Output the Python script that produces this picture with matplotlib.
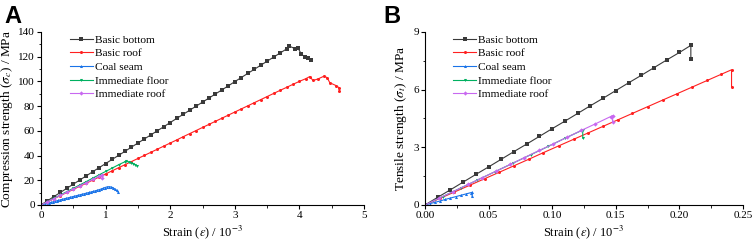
import matplotlib.pyplot as plt
from matplotlib.ticker import MultipleLocator

plt.rcParams['font.family'] = ['Liberation Serif', 'DejaVu Serif']
plt.rcParams['mathtext.fontset'] = 'stix'

names = ["Basic bottom", "Basic roof", "Coal seam", "Immediate floor", "Immediate roof"]
colors = ["#3a3a3a", "#ff2020", "#1a73e8", "#00b060", "#c868f0"]
markers = ["s", "o", "^", "v", "D"]

# Panel A: compression tests (strain in 10^-3, stress in MPa)
bb_strain_a = [0.0, 0.1, 0.2, 0.3, 0.4, 0.5, 0.6, 0.7, 0.8, 0.9, 1.0, 1.1, 1.2, 1.3, 1.4,
               1.5, 1.6, 1.7, 1.8, 1.9, 2.0, 2.1, 2.2, 2.3, 2.4, 2.5, 2.6, 2.7, 2.8, 2.9,
               3.0, 3.1, 3.2, 3.3, 3.4, 3.5, 3.6, 3.7, 3.8, 3.84, 3.93, 3.98, 4.03, 4.08,
               4.13, 4.18]
bb_stress_a = [0, 3.4, 6.8, 10.1, 13.5, 16.8, 20.2, 23.5, 26.9, 30.2, 33.5, 36.8, 40.1, 43.4,
               46.8, 50.1, 53.4, 56.7, 60.0, 63.3, 66.7, 70.0, 73.3, 76.6, 79.9, 83.2, 86.5,
               89.8, 93.1, 96.4, 99.8, 103.1, 106.4, 109.7, 113.0, 116.3, 119.6, 122.9,
               126.2, 128.6, 126.5, 126.8, 122.0, 120.0, 118.5, 117.0]

br_strain_a = [0.0, 0.1, 0.2, 0.3, 0.4, 0.5, 0.6, 0.7, 0.8, 0.9, 1.0, 1.1, 1.2, 1.3, 1.4,
               1.5, 1.6, 1.7, 1.8, 1.9, 2.0, 2.1, 2.2, 2.3, 2.4, 2.5, 2.6, 2.7, 2.8, 2.9,
               3.0, 3.1, 3.2, 3.3, 3.4, 3.5, 3.6, 3.7, 3.8, 3.9, 4.0, 4.1, 4.16, 4.21,
               4.29, 4.38, 4.43, 4.47, 4.57, 4.61, 4.62]
br_stress_a = [0, 2.5, 5.0, 7.6, 10.1, 12.6, 15.1, 17.6, 20.1, 22.6, 25.1, 27.6, 30.1, 32.6,
               35.1, 37.6, 40.1, 42.6, 45.1, 47.6, 50.1, 52.6, 55.2, 57.7, 60.2, 62.7, 65.2,
               67.7, 70.2, 72.7, 75.2, 77.7, 80.2, 82.7, 85.2, 87.7, 90.2, 92.7, 95.1,
               97.6, 100.0, 102.2, 103.9, 100.7, 102.0, 104.2, 103.0, 98.9, 96.5, 95.0, 92.2]

cs_strain_a = [0.0, 0.03, 0.06, 0.09, 0.12, 0.15, 0.18, 0.21, 0.24, 0.27, 0.30, 0.33, 0.36,
               0.39, 0.42, 0.45, 0.48, 0.51, 0.54, 0.57, 0.60, 0.63, 0.66, 0.69, 0.72, 0.75,
               0.78, 0.81, 0.84, 0.87, 0.90, 0.93, 0.96, 0.99, 1.02, 1.05, 1.08, 1.11, 1.14,
               1.17, 1.19]
cs_stress_a = [0, 0.35, 0.75, 1.15, 1.6, 2.0, 2.45, 2.9, 3.3, 3.75, 4.15, 4.6, 5.0, 5.4,
               5.8, 6.2, 6.6, 7.0, 7.4, 7.8, 8.2, 8.6, 9.0, 9.4, 9.8, 10.2, 10.6, 11.0,
               11.45, 11.9, 12.4, 12.9, 13.5, 14.1, 14.6, 14.8, 14.6, 14.1, 13.0, 11.8, 10.5]

if_strain_a = [0.0, 0.1, 0.2, 0.3, 0.4, 0.5, 0.6, 0.7, 0.8, 0.9, 1.0, 1.1, 1.2, 1.3, 1.32,
               1.36, 1.39, 1.43, 1.46, 1.48]
if_stress_a = [0, 2.7, 5.4, 8.1, 10.8, 13.5, 16.2, 18.9, 21.7, 24.4, 27.1, 29.8, 32.5, 35.0,
               35.6, 34.5, 34.0, 33.5, 32.5, 31.6]

ir_strain_a = [0.0, 0.1, 0.2, 0.3, 0.4, 0.5, 0.6, 0.7, 0.8, 0.9, 0.94, 0.95]
ir_stress_a = [0, 2.6, 5.2, 7.7, 10.3, 12.9, 15.5, 18.0, 20.6, 23.2, 24.2, 22.1]

# Panel B: tensile tests
bb_strain_b = [0.0, 0.01, 0.02, 0.03, 0.04, 0.05, 0.06, 0.07, 0.08, 0.09, 0.10, 0.11, 0.12,
               0.13, 0.14, 0.15, 0.16, 0.17, 0.18, 0.19, 0.20, 0.209, 0.209]
bb_stress_b = [0, 0.40, 0.79, 1.19, 1.59, 1.98, 2.38, 2.78, 3.17, 3.57, 3.97, 4.36, 4.76,
               5.16, 5.55, 5.95, 6.35, 6.74, 7.14, 7.54, 7.93, 8.30, 7.60]

br_strain_b = [0.0, 0.012, 0.023, 0.035, 0.047, 0.058, 0.070, 0.082, 0.093, 0.105, 0.117,
               0.128, 0.140, 0.152, 0.163, 0.175, 0.187, 0.198, 0.210, 0.222, 0.233, 0.241,
               0.241]
br_stress_b = [0, 0.35, 0.67, 1.02, 1.37, 1.69, 2.04, 2.39, 2.72, 3.07, 3.42, 3.74, 4.09,
               4.44, 4.76, 5.11, 5.46, 5.78, 6.13, 6.48, 6.80, 7.03, 6.16]

cs_strain_b = [0.0, 0.004, 0.008, 0.012, 0.016, 0.020, 0.024, 0.028, 0.032, 0.036, 0.037,
               0.037]
cs_stress_b = [0, 0.07, 0.14, 0.21, 0.29, 0.36, 0.43, 0.50, 0.57, 0.64, 0.66, 0.45]

if_strain_b = [0.0, 0.014, 0.028, 0.041, 0.055, 0.069, 0.083, 0.097, 0.110, 0.124, 0.124]
if_stress_b = [0, 0.44, 0.88, 1.29, 1.73, 2.17, 2.61, 3.05, 3.47, 3.90, 3.47]

ir_strain_b = [0.0, 0.011, 0.022, 0.034, 0.045, 0.056, 0.067, 0.078, 0.090, 0.101, 0.112,
               0.123, 0.134, 0.146, 0.1475, 0.1475]
ir_stress_b = [0, 0.35, 0.69, 1.07, 1.42, 1.76, 2.11, 2.46, 2.84, 3.18, 3.53, 3.88, 4.22,
               4.60, 4.65, 4.33]

series_a = [(bb_strain_a, bb_stress_a), (br_strain_a, br_stress_a), (cs_strain_a, cs_stress_a),
            (if_strain_a, if_stress_a), (ir_strain_a, ir_stress_a)]
series_b = [(bb_strain_b, bb_stress_b), (br_strain_b, br_stress_b), (cs_strain_b, cs_stress_b),
            (if_strain_b, if_stress_b), (ir_strain_b, ir_stress_b)]

fig = plt.figure(figsize=(7.54, 2.4), dpi=100)
ax_a = fig.add_axes([0.0544, 0.146, 0.4284, 0.721])
ax_b = fig.add_axes([0.5637, 0.146, 0.4217, 0.721])


def style_axes(ax):
    for side in ["top", "right"]:
        ax.spines[side].set_visible(False)
    for side in ["left", "bottom"]:
        ax.spines[side].set_linewidth(0.8)
    ax.tick_params(which="major", direction="out", length=3, width=0.8, labelsize=8, pad=1.5)
    ax.tick_params(which="minor", direction="out", length=1.8, width=0.6)


for ax, series in [(ax_a, series_a), (ax_b, series_b)]:
    for (x, y), name, c, m in zip(series, names, colors, markers):
        ax.plot(x, y, color=c, lw=0.8, marker=m, ms=2.2, mew=0, label=name)
    style_axes(ax)
    ax.legend(loc="upper left", bbox_to_anchor=(0.075, 1.01), frameon=False, fontsize=8.2,
              handlelength=2.0, handletextpad=0.2, labelspacing=0.32, borderaxespad=0)

ax_a.set_xlim(0, 5)
ax_a.set_ylim(0, 140)
ax_a.xaxis.set_major_locator(MultipleLocator(1))
ax_a.xaxis.set_minor_locator(MultipleLocator(0.5))
ax_a.yaxis.set_major_locator(MultipleLocator(20))
ax_a.yaxis.set_minor_locator(MultipleLocator(10))
ax_a.set_xlabel(r"Strain ($\varepsilon$) / 10$^{-3}$", fontsize=9)
ax_a.set_ylabel(r"Compression strength ($\sigma_c$) / MPa", fontsize=9.6)
ax_a.xaxis.set_label_coords(0.5, -0.108)
ax_a.yaxis.set_label_coords(-0.08, 0.5)

ax_b.set_xlim(0, 0.25)
ax_b.set_ylim(0, 9)
ax_b.xaxis.set_major_locator(MultipleLocator(0.05))
ax_b.xaxis.set_minor_locator(MultipleLocator(0.025))
ax_b.yaxis.set_major_locator(MultipleLocator(3))
ax_b.yaxis.set_minor_locator(MultipleLocator(1.5))
ax_b.xaxis.set_major_formatter(lambda v, p: f"{v:.2f}")
ax_b.set_xlabel(r"Strain ($\varepsilon$) / 10$^{-3}$", fontsize=9)
ax_b.set_ylabel(r"Tensile strength ($\sigma_t$) / MPa", fontsize=9.6)
ax_b.xaxis.set_label_coords(0.5, -0.108)
ax_b.yaxis.set_label_coords(-0.05, 0.5)

fig.text(0.006, 0.98, "A", fontsize=17, fontweight="bold", family="Liberation Sans", va="top")
fig.text(0.508, 0.98, "B", fontsize=17, fontweight="bold", family="Liberation Sans", va="top")

fig.savefig("out.png", dpi=100)
